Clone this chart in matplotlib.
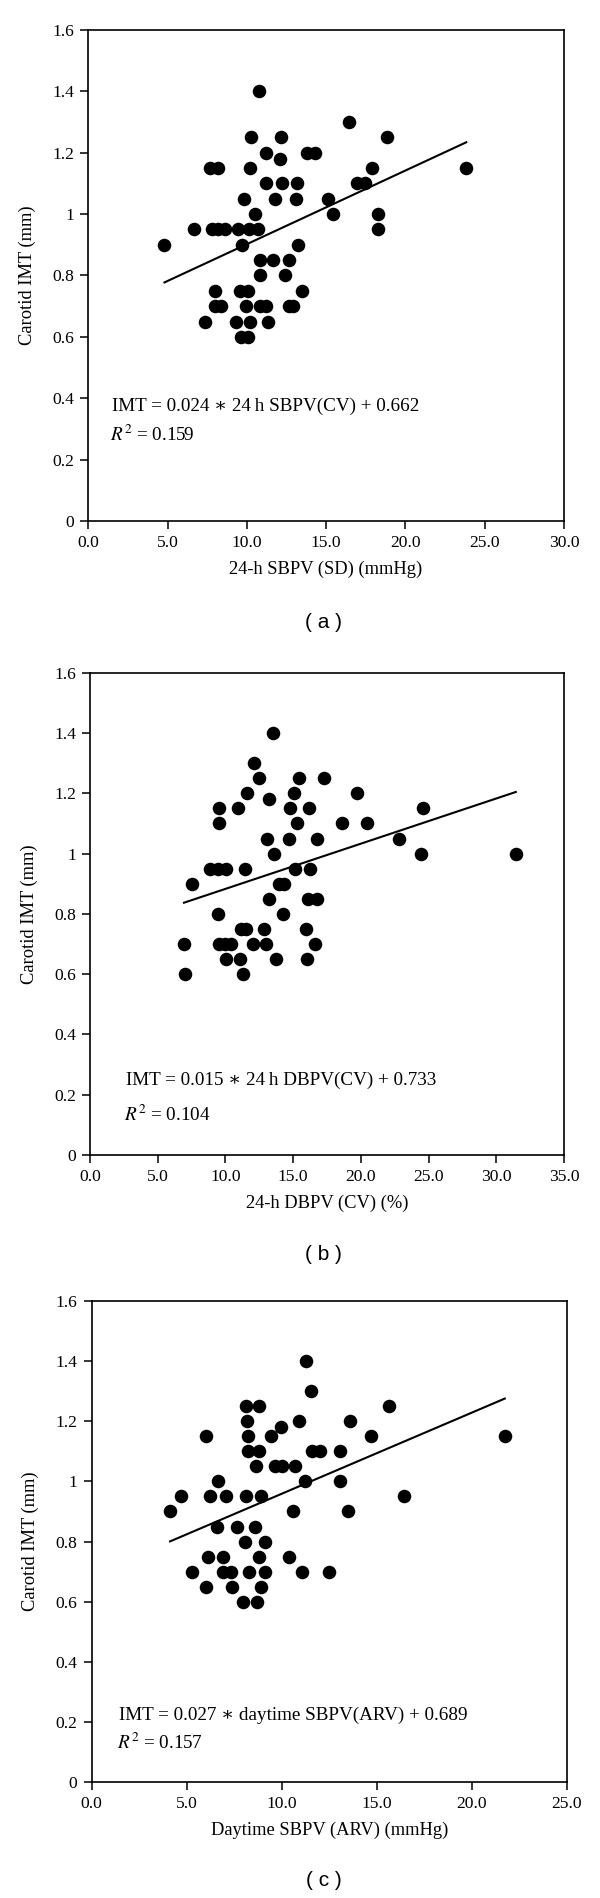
import matplotlib
matplotlib.use("Agg")
import matplotlib.pyplot as plt
from matplotlib.ticker import FormatStrFormatter, FuncFormatter

plt.rcParams['font.family'] = ['Liberation Serif', 'DejaVu Serif']
plt.rcParams['mathtext.fontset'] = 'stix'

# (a) 24-h SBPV (SD) vs carotid IMT
sd_x = [10.75, 16.45, 10.27, 12.15, 18.86, 11.24, 13.79, 14.31, 12.07,
        7.66, 8.18, 10.23, 17.92, 23.84, 11.24, 12.25, 13.19, 16.96, 17.46,
        9.81, 11.78, 13.12, 15.15, 10.52, 15.42, 18.29,
        6.67, 7.78, 8.20, 8.62, 9.46, 10.17, 10.69, 18.29,
        4.81, 9.71, 13.22, 10.82, 11.68, 12.68, 10.86, 12.39,
        7.97, 9.54, 10.06, 13.47, 7.99, 8.39, 9.96, 10.82, 11.21, 12.64, 12.91,
        7.34, 9.31, 10.19, 11.34, 9.62, 10.06]
sd_imt = [1.40, 1.30, 1.25, 1.25, 1.25, 1.20, 1.20, 1.20, 1.18,
          1.15, 1.15, 1.15, 1.15, 1.15, 1.10, 1.10, 1.10, 1.10, 1.10,
          1.05, 1.05, 1.05, 1.05, 1.00, 1.00, 1.00,
          0.95, 0.95, 0.95, 0.95, 0.95, 0.95, 0.95, 0.95,
          0.90, 0.90, 0.90, 0.85, 0.85, 0.85, 0.80, 0.80,
          0.75, 0.75, 0.75, 0.75, 0.70, 0.70, 0.70, 0.70, 0.70, 0.70, 0.70,
          0.65, 0.65, 0.65, 0.65, 0.60, 0.60]

# (b) 24-h DBPV (CV) vs carotid IMT
cv_x = [13.48, 12.14, 12.46, 15.41, 17.31, 11.62, 15.07, 19.69, 13.20,
        9.55, 10.95, 14.80, 16.17, 24.60, 9.55, 15.29, 18.63, 20.43,
        13.07, 14.67, 16.74, 22.84, 13.61, 24.43, 31.44,
        8.86, 9.48, 10.04, 11.45, 15.14, 16.25,
        7.51, 13.93, 14.35, 13.20, 16.10, 16.74, 9.48, 14.23,
        11.15, 11.50, 12.87, 15.93,
        6.94, 9.50, 9.97, 10.41, 12.06, 12.97, 16.59,
        10.02, 11.06, 13.76, 16.03, 6.99, 11.27]
cv_imt = [1.40, 1.30, 1.25, 1.25, 1.25, 1.20, 1.20, 1.20, 1.18,
          1.15, 1.15, 1.15, 1.15, 1.15, 1.10, 1.10, 1.10, 1.10,
          1.05, 1.05, 1.05, 1.05, 1.00, 1.00, 1.00,
          0.95, 0.95, 0.95, 0.95, 0.95, 0.95,
          0.90, 0.90, 0.90, 0.85, 0.85, 0.85, 0.80, 0.80,
          0.75, 0.75, 0.75, 0.75,
          0.70, 0.70, 0.70, 0.70, 0.70, 0.70, 0.70,
          0.65, 0.65, 0.65, 0.65, 0.60, 0.60]

# (c) daytime SBPV (ARV) vs carotid IMT
arv_x = [11.26, 11.54, 8.14, 8.79, 15.64, 8.16, 10.93, 13.61, 9.98,
         6.02, 8.21, 9.44, 14.70, 21.73, 8.21, 8.79, 11.61, 12.01, 13.07,
         8.65, 9.65, 10.02, 10.70, 6.67, 11.22, 13.07,
         4.71, 6.25, 7.05, 8.14, 8.93, 16.41,
         4.13, 10.61, 13.47, 6.58, 7.63, 8.58, 8.09, 9.10,
         6.11, 6.93, 8.81, 10.38,
         5.27, 6.93, 7.33, 8.28, 9.10, 11.08, 12.50,
         6.02, 7.40, 8.91, 7.98, 8.72]
arv_imt = [1.40, 1.30, 1.25, 1.25, 1.25, 1.20, 1.20, 1.20, 1.18,
           1.15, 1.15, 1.15, 1.15, 1.15, 1.10, 1.10, 1.10, 1.10, 1.10,
           1.05, 1.05, 1.05, 1.05, 1.00, 1.00, 1.00,
           0.95, 0.95, 0.95, 0.95, 0.95, 0.95,
           0.90, 0.90, 0.90, 0.85, 0.85, 0.85, 0.80, 0.80,
           0.75, 0.75, 0.75, 0.75,
           0.70, 0.70, 0.70, 0.70, 0.70, 0.70, 0.70,
           0.65, 0.65, 0.65, 0.60, 0.60]

# regression coefficients as printed on the chart
fits = [(0.024, 0.662, '0.159'), (0.015, 0.733, '0.104'), (0.027, 0.689, '0.157')]

panels = [
    dict(x=sd_x, y=sd_imt, xmax=30, xlabel='24-h SBPV (SD) (mmHg)',
         eq='IMT = 0.024 \u2217 24\u2009h SBPV(CV) + 0.662', tag='( a )',
         rect=[0.147, 0.7255, 0.793, 0.2587], eq_xy=(1.5, 0.375), r2_y=0.280, tag_y=0.6718),
    dict(x=cv_x, y=cv_imt, xmax=35, xlabel='24-h DBPV (CV) (%)',
         eq='IMT = 0.015 \u2217 24\u2009h DBPV(CV) + 0.733', tag='( b )',
         rect=[0.150, 0.3915, 0.790, 0.2540], eq_xy=(2.64, 0.246), r2_y=0.133, tag_y=0.3388),
    dict(x=arv_x, y=arv_imt, xmax=25, xlabel='Daytime SBPV (ARV) (mmHg)',
         eq='IMT = 0.027 \u2217 daytime SBPV(ARV) + 0.689', tag='( c )',
         rect=[0.1525, 0.0611, 0.7925, 0.2534], eq_xy=(1.46, 0.222), r2_y=0.132, tag_y=0.0090),
]

fig = plt.figure(figsize=(6.0, 18.98), dpi=100)

for p, (slope, icept, r2) in zip(panels, fits):
    ax = fig.add_axes(p['rect'])
    ax.scatter(p['x'], p['y'], s=95, color='black', zorder=3, linewidths=0)
    x0, x1 = min(p['x']), max(p['x'])
    ax.plot([x0, x1], [slope * x0 + icept, slope * x1 + icept], color='black', lw=1.5)

    ax.set_xlim(0, p['xmax'])
    ax.set_ylim(0, 1.6)
    ax.set_xticks(range(0, p['xmax'] + 1, 5))
    ax.set_yticks([0, 0.2, 0.4, 0.6, 0.8, 1.0, 1.2, 1.4, 1.6])
    ax.xaxis.set_major_formatter(FormatStrFormatter('%.1f'))
    ax.yaxis.set_major_formatter(FuncFormatter(lambda v, pos: '%g' % round(v, 1)))
    ax.tick_params(direction='out', length=6, width=1.1, labelsize=12.6, pad=4,
                   top=False, right=False)
    for sp in ax.spines.values():
        sp.set_linewidth(1.2)

    ax.set_xlabel(p['xlabel'], fontsize=13.3, labelpad=7)
    ax.set_ylabel('Carotid IMT (mm)', fontsize=13.3, labelpad=12)

    ex, ey = p['eq_xy']
    ax.text(ex, ey, p['eq'], fontsize=13.8, va='center', ha='left')
    ax.text(ex - 0.1, p['r2_y'], '$R^2$ = ' + r2, fontsize=13.8, va='center', ha='left')

    fig.text(0.539, p['tag_y'], p['tag'], ha='center', va='center', fontsize=15,
             family=['Liberation Sans', 'DejaVu Sans'])

fig.savefig('out.png', dpi=100, facecolor='white')
